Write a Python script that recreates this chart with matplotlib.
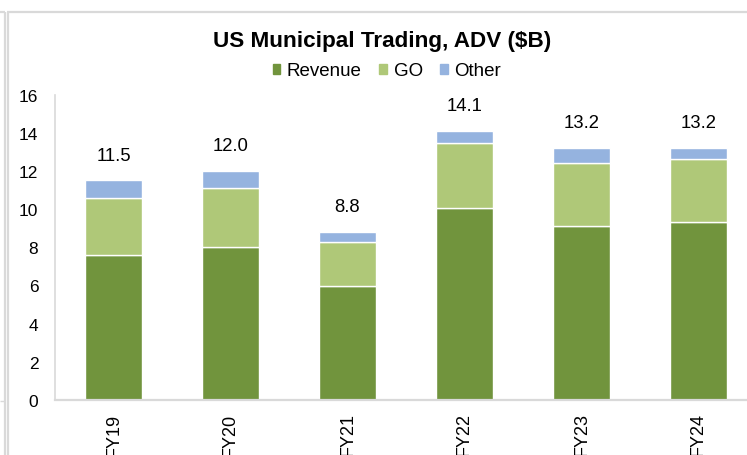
import matplotlib.pyplot as plt
from matplotlib.lines import Line2D
from matplotlib.patches import Patch
import numpy as np

# -------------------------------------------------------------------
# DATOS (ADV, $B)
# -------------------------------------------------------------------
years = ["FY19", "FY20", "FY21", "FY22", "FY23", "FY24"]
revenue = [7.6, 8.0, 5.95, 10.05, 9.1, 9.3]
go = [3.0, 3.1, 2.35, 3.4, 3.3, 3.3]
other = [0.9, 0.9, 0.5, 0.65, 0.8, 0.6]

COLOR_REVENUE = "#71943D"
COLOR_GO = "#AFC878"
COLOR_OTHER = "#95B3DF"
COLOR_GRID = "#D9D9D9"

W, H = 747, 456

plt.rcParams["font.family"] = ["Liberation Sans", "DejaVu Sans"]


def frame_lines(fig):
    # thin grey border around the chart area
    def px_line(x0, y0, x1, y1, lw=1.6):
        fig.add_artist(Line2D([x0 / W, x1 / W], [1 - y0 / H, 1 - y1 / H],
                              transform=fig.transFigure, color=COLOR_GRID,
                              lw=lw, solid_capstyle="butt"))

    px_line(7, 13, W, 13)
    px_line(0, 13, 5, 13)
    px_line(4.5, 13, 4.5, H)
    px_line(7.5, 13, 7.5, H)
    px_line(0, 402, 4.5, 402, lw=1.0)


def main():
    fig = plt.figure(figsize=(W / 100, H / 100), dpi=100)

    # axes run past the right edge, like the cropped original
    left, bottom, top = 55, 401, 95.5
    width = 117 * len(years)
    ax = fig.add_axes([left / W, 1 - bottom / H, width / W, (bottom - top) / H])

    x = np.arange(len(years))
    rev = np.array(revenue)
    g = np.array(go)
    oth = np.array(other)
    totals = rev + g + oth

    bw = 0.487
    kw = dict(width=bw, edgecolor="white", linewidth=1.0)
    ax.bar(x, rev, color=COLOR_REVENUE, **kw)
    ax.bar(x, g, bottom=rev, color=COLOR_GO, **kw)
    ax.bar(x, oth, bottom=rev + g, color=COLOR_OTHER, **kw)

    for xi, t in zip(x, totals):
        ax.annotate(f"{t:.1f}", (xi, t), xytext=(0, 18), textcoords="offset points",
                    ha="center", va="center", fontsize=13.3)

    ax.set_xlim(-0.5, len(years) - 0.5)
    ax.set_ylim(0, 16)
    ax.set_yticks(range(0, 17, 2))
    ax.set_xticks(x)
    ax.set_xticklabels(years, rotation=90, fontsize=13)

    ax.tick_params(axis="y", length=0, pad=12, labelsize=12.5)
    ax.tick_params(axis="x", length=0, pad=9)

    for side in ["top", "right"]:
        ax.spines[side].set_visible(False)
    ax.spines["left"].set_color(COLOR_GRID)
    ax.spines["left"].set_linewidth(1.2)
    ax.spines["bottom"].set_color(COLOR_GRID)
    ax.spines["bottom"].set_linewidth(1.6)

    fig.text(382 / W, 1 - 42 / H, "US Municipal Trading, ADV ($B)",
             ha="center", va="center", fontsize=16.2, fontweight="bold")

    handles = [Patch(color=COLOR_REVENUE, label="Revenue"),
               Patch(color=COLOR_GO, label="GO"),
               Patch(color=COLOR_OTHER, label="Other")]
    fig.legend(handles=handles, loc="center", bbox_to_anchor=(387 / W, 1 - 72 / H),
               ncol=3, frameon=False, fontsize=13.5, handlelength=0.4,
               handleheight=0.4, handletextpad=0.35, columnspacing=0.95,
               borderpad=0)

    frame_lines(fig)

    fig.savefig("out.png", dpi=100)
    plt.close(fig)


if __name__ == "__main__":
    main()
